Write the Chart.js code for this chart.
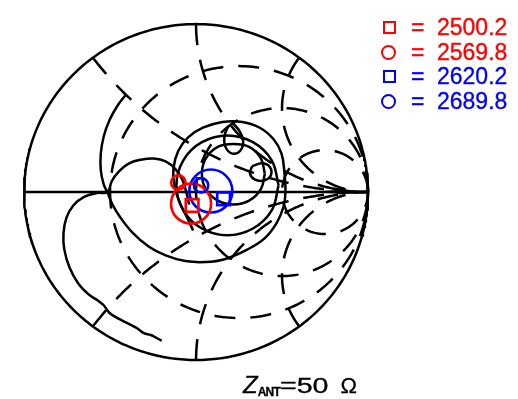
<!DOCTYPE html>
<html>
<head>
<meta charset="utf-8">
<script src="https://cdn.jsdelivr.net/npm/chart.js@4.4.1/dist/chart.umd.min.js"></script>
<style>
  body { margin: 0; background: #fff; }
  #wrap { position: relative; width: 518px; height: 399px; overflow: hidden; }
  #smith { position: absolute; left: 0; top: 0; }
  .key { position: absolute; font-family: 'Liberation Sans', Arial, sans-serif; font-size: 23px; line-height: 23px; white-space: nowrap; -webkit-text-stroke: 0.35px currentColor; }
  .sym { position: absolute; box-sizing: border-box; border-width: 2.5px; border-style: solid; }
  #zlabel { position: absolute; left: 243px; top: 373px; font-family: 'Liberation Sans', Arial, sans-serif; font-size: 22px; line-height: 24px; white-space: nowrap; color: #000; -webkit-text-stroke: 0.3px #000; }
  #zlabel i { font-size: 24px; }
  #zlabel sub { font-size: 12px; font-weight: bold; letter-spacing: -0.8px; vertical-align: -3px; }
  #zlabel .num { display: inline-block; transform: scaleX(1.3); transform-origin: left center; margin-right: 11px; }
</style>
</head>
<body>
<div id="wrap">
  <canvas id="smith" width="518" height="399"></canvas>
  <div id="zlabel"><i>Z</i><sub>ANT</sub><span class="num">=<span id="zval"></span></span>&nbsp;&nbsp;&Omega;</div>
</div>
<script>
// ---- Smith chart grid values ----
const resistanceValues = [1 / 3, 1, 3];
const reactanceValues = [0.5, 1, 2, -0.5, -1, -2];

// ---- marker legend ----
const markerFreqs = [2500.2, 2569.8, 2620.2, 2689.8];
const markerColors = ['#ff0000', '#ff0000', '#0000ff', '#0000ff'];
const markerShapes = ['rect', 'circle', 'rect', 'circle'];
const referenceImpedance = 50;

// ---- reflection-coefficient traces (Re Γ, Im Γ) ----
const lowerLeftTrace = [
  [-0.200, -0.886], [-0.229, -0.869], [-0.263, -0.851], [-0.303, -0.840], [-0.343, -0.811],
  [-0.394, -0.783], [-0.451, -0.754], [-0.503, -0.720], [-0.537, -0.674], [-0.571, -0.646],
  [-0.623, -0.611], [-0.686, -0.543], [-0.737, -0.446], [-0.766, -0.343], [-0.771, -0.246],
  [-0.754, -0.154], [-0.714, -0.080], [-0.651, -0.029], [-0.577, -0.006], [-0.514, 0.000],
  [-0.491, 0.063], [-0.451, 0.120], [-0.389, 0.171], [-0.314, 0.194], [-0.246, 0.200],
  [-0.177, 0.183], [-0.120, 0.137], [-0.080, 0.074], [-0.057, 0.000], [-0.040, -0.074]
];
const outerLoopTrace = [
  [-0.411, 0.577], [-0.457, 0.514], [-0.503, 0.429], [-0.537, 0.331], [-0.554, 0.229],
  [-0.554, 0.131], [-0.537, 0.046], [-0.514, -0.006], [-0.486, -0.074], [-0.446, -0.143],
  [-0.371, -0.240], [-0.274, -0.326], [-0.177, -0.377], [-0.063, -0.411], [0.057, -0.417],
  [0.166, -0.400], [0.297, -0.343], [0.400, -0.274], [0.469, -0.183], [0.509, -0.086],
  [0.520, 0.000], [0.514, 0.114], [0.497, 0.229], [0.451, 0.314], [0.371, 0.383],
  [0.269, 0.417], [0.154, 0.417], [0.040, 0.383], [-0.046, 0.326], [-0.103, 0.246],
  [-0.131, 0.143], [-0.126, 0.040], [-0.097, -0.057], [-0.051, -0.154], [-0.017, -0.229]
];
const innerLoopA = [
  [0.480, 0.040], [0.440, 0.189], [0.331, 0.297], [0.183, 0.337], [0.034, 0.297],
  [-0.074, 0.189], [-0.114, 0.040], [-0.074, -0.109], [0.034, -0.217], [0.183, -0.257],
  [0.331, -0.217], [0.440, -0.109], [0.480, 0.040]
];
const innerLoopB = [
  [0.400, 0.109], [0.377, 0.200], [0.309, 0.269], [0.217, 0.286], [0.126, 0.269],
  [0.057, 0.200], [0.034, 0.109], [0.057, 0.017], [0.126, -0.051], [0.217, -0.074],
  [0.309, -0.051], [0.377, 0.017], [0.400, 0.109]
];
const smallLoopTop = [
  [0.189, 0.394], [0.166, 0.337], [0.171, 0.269], [0.211, 0.229], [0.257, 0.246],
  [0.274, 0.303], [0.251, 0.366], [0.217, 0.406]
];
const smallLoopRight = [
  [0.326, 0.154], [0.314, 0.109], [0.343, 0.074], [0.394, 0.069], [0.434, 0.097],
  [0.429, 0.149], [0.383, 0.171], [0.326, 0.154]
];

// ---- frequency markers on the traces ----
const markerSquares = [[-0.023, -0.080], [0.160, -0.040]];        // 2500.2, 2620.2
const markerCircles = [[-0.103, 0.057], [0.029, 0.040]];          // 2569.8, 2689.8
const markerRings = [[-0.029, -0.069], [0.086, 0.006]];

// ---- arrow on the real axis ----
const arrowTip = 0.97, arrowBase = 0.82, arrowShaft = 0.75;
const arrowUp = 0.026, arrowDown = 0.013;

const toXY = pts => pts.map(([x, y]) => ({ x, y }));

function resistanceCircle(r, n = 240) {
  const c = r / (1 + r), rad = 1 / (1 + r), pts = [];
  for (let i = 0; i <= n; i++) {
    const t = 2 * Math.PI * i / n;
    pts.push({ x: c + rad * Math.cos(t), y: rad * Math.sin(t) });
  }
  return pts;
}

function reactanceArc(xv, n = 160) {
  const a = Math.abs(xv), rad = 1 / a, cy = 1 / a;
  const gx = (a * a - 1) / (a * a + 1), gy = 2 * a / (a * a + 1);
  let t0 = Math.atan2(gy - cy, gx - 1);
  if (t0 < 0) t0 += 2 * Math.PI;
  const t1 = 1.5 * Math.PI, s = Math.sign(xv), pts = [];
  for (let i = 0; i <= n; i++) {
    const t = t0 + (t1 - t0) * i / n;
    pts.push({ x: 1 + rad * Math.cos(t), y: s * (cy + rad * Math.sin(t)) });
  }
  return pts;
}

const lineW = 2.5;
const gridDash = [21, 15];
const datasets = [];

// colored markers on top
markerSquares.forEach((p, i) => datasets.push({
  data: toXY([p]), showLine: false, pointStyle: 'rect', pointRadius: 9,
  borderColor: markerColors[i * 2], backgroundColor: 'transparent', borderWidth: 2.6, order: 0
}));
markerCircles.forEach((p, i) => datasets.push({
  data: toXY([p]), showLine: false, pointStyle: 'circle', pointRadius: 7.2,
  borderColor: markerColors[i * 2 + 1], backgroundColor: 'transparent', borderWidth: 2.6, order: 0
}));
markerRings.forEach((p, i) => datasets.push({
  data: toXY([p]), showLine: false, pointStyle: 'circle', pointRadius: i === 0 ? 20 : 21.5,
  borderColor: markerColors[i * 2], backgroundColor: 'transparent', borderWidth: 2.6, order: 0
}));

// traces
[lowerLeftTrace, outerLoopTrace, innerLoopA, innerLoopB, smallLoopTop, smallLoopRight].forEach(tr => datasets.push({
  data: toXY(tr), showLine: true, pointRadius: 0, borderColor: '#000', borderWidth: lineW,
  tension: 0.4, fill: false, order: 1
}));

// outer boundary and real axis
datasets.push({ data: resistanceCircle(0, 360), showLine: true, pointRadius: 0, borderColor: '#000', borderWidth: lineW, order: 2 });
datasets.push({ data: [{ x: -1, y: 0 }, { x: 1, y: 0 }], showLine: true, pointRadius: 0, borderColor: '#000', borderWidth: lineW, order: 2 });

// dashed grid
resistanceValues.forEach(r => datasets.push({
  data: resistanceCircle(r), showLine: true, pointRadius: 0, borderColor: '#000', borderWidth: lineW,
  borderDash: gridDash, order: 3
}));
reactanceValues.forEach(xv => datasets.push({
  data: reactanceArc(xv), showLine: true, pointRadius: 0, borderColor: '#000', borderWidth: lineW,
  borderDash: gridDash, order: 3
}));

const arrowPlugin = {
  id: 'axisArrow',
  afterDatasetsDraw(chart) {
    const { ctx, scales: { x: sx, y: sy } } = chart;
    const px = v => sx.getPixelForValue(v), py = v => sy.getPixelForValue(v);
    ctx.save();
    ctx.fillStyle = '#000';
    // heavy shaft leading into the head
    ctx.beginPath();
    ctx.moveTo(px(arrowShaft), py(0.008));
    ctx.lineTo(px(arrowBase), py(0.012));
    ctx.lineTo(px(arrowBase), py(-0.008));
    ctx.lineTo(px(arrowShaft), py(-0.006));
    ctx.closePath();
    ctx.fill();
    // head
    ctx.beginPath();
    ctx.moveTo(px(arrowTip), py(0));
    ctx.lineTo(px(arrowBase - 0.01), py(arrowUp));
    ctx.lineTo(px(arrowBase + 0.01), py(0));
    ctx.lineTo(px(arrowBase - 0.01), py(-arrowDown));
    ctx.closePath();
    ctx.fill();
    ctx.restore();
  }
};

new Chart(document.getElementById('smith'), {
  type: 'scatter',
  data: { datasets: datasets.map(d => Object.assign({ clip: false }, d)) },
  options: {
    responsive: false,
    animation: false,
    devicePixelRatio: 1,
    layout: { padding: { left: 18, right: 150, top: 10, bottom: 39 } },
    scales: {
      x: { type: 'linear', min: -1, max: 1, display: false },
      y: { type: 'linear', min: -1, max: 1, display: false }
    },
    plugins: { legend: { display: false }, tooltip: { enabled: false } },
    elements: { line: { borderCapStyle: 'butt' } }
  },
  plugins: [arrowPlugin]
});

// legend entries
const wrap = document.getElementById('wrap');
markerFreqs.forEach((f, i) => {
  const cy = 27.5 + i * 24.5;
  const color = markerColors[i];
  const sym = document.createElement('div');
  sym.className = 'sym';
  if (markerShapes[i] === 'rect') {
    Object.assign(sym.style, { left: '383px', top: (cy - 6.5) + 'px', width: '13px', height: '13px', borderColor: color });
  } else {
    Object.assign(sym.style, { left: '381px', top: (cy - 7.5) + 'px', width: '15px', height: '15px', borderColor: color, borderRadius: '50%' });
  }
  wrap.appendChild(sym);
  const eq = document.createElement('div');
  eq.className = 'key';
  Object.assign(eq.style, { left: '411px', top: (cy - 11.3) + 'px', color });
  eq.textContent = '=';
  wrap.appendChild(eq);
  const val = document.createElement('div');
  val.className = 'key';
  Object.assign(val.style, { left: '437px', top: (cy - 11.3) + 'px', color });
  val.textContent = f.toFixed(1);
  wrap.appendChild(val);
});
document.getElementById('zval').textContent = String(referenceImpedance);
</script>
</body>
</html>
